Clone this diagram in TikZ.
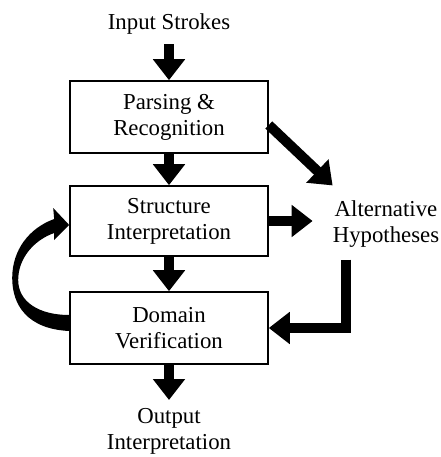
\documentclass[tikz,border=0pt]{standalone}
\usepackage{fontspec}
\setmainfont{Liberation Serif}
\usetikzlibrary{arrows.meta,calc}

\begin{document}
\begin{tikzpicture}[x=1pt, y=-1pt]
    \tikzset{stage/.style={draw, line width=1.6pt, minimum width=198pt, minimum height=72pt, align=center, font=\fontsize{22.8}{26}\selectfont},
             txt/.style={inner sep=0pt, align=center, font=\fontsize{22.8}{26}\selectfont},
             fat/.style={line width=10pt, -{Triangle[width=31pt, length=21pt]}}}
    \useasboundingbox (0,0) rectangle (440,457);

    \node[txt, anchor=base] (in) at (169,30) {Input Strokes};
    \node[stage] (parse) at (169,117) {Parsing \&\\Recognition};
    \node[stage, minimum height=70pt] (struct) at (169,221) {Structure\\Interpretation};
    \node[stage] (verif) at (169,328) {Domain\\Verification};
    \node[txt] (alt) at (386,224) {Alternative\\Hypotheses};
    \node[txt, anchor=north] (out) at (169,408) {Output\\Interpretation};

    \path[fat]
        (in) edge [shorten <=9pt] (parse)
        (parse) edge (struct)
        ([yshift=-8pt]parse.east) edge ([yshift=15pt]alt.north west)
        (struct) edge (verif)
        (struct.east) edge ($(struct.east -| alt.west)+(-20,0)$)
        (verif) edge [shorten >=8pt] (out);
    \draw[fat] ([xshift=-40pt, yshift=-12pt]alt.south) |- (verif.east);

    % feedback from verification back to structure
    \fill ($(verif.west)+(0,3)$) .. controls ($(verif.west)+(-42,1)$) and ($(verif.west)+(-57,-23)$) .. ($(verif.west)+(-57,-50)$)
        .. controls ($(struct.west)+(-57,29)$) and ($(struct.west)+(-40,7)$) .. ($(struct.west)+(-15,-2)$)
        -- ($(struct.west)+(-16,-13)$) -- ($(struct.west)+(0,4)$) -- ($(struct.west)+(-15,19)$) -- ($(struct.west)+(-15,12)$)
        .. controls ($(struct.west)+(-35,19)$) and ($(struct.west)+(-51,37)$) .. ($(verif.west)+(-51,-48)$)
        .. controls ($(verif.west)+(-51,-26)$) and ($(verif.west)+(-30,-13)$) .. ($(verif.west)+(0,-13)$) -- cycle;
\end{tikzpicture}
\end{document}
